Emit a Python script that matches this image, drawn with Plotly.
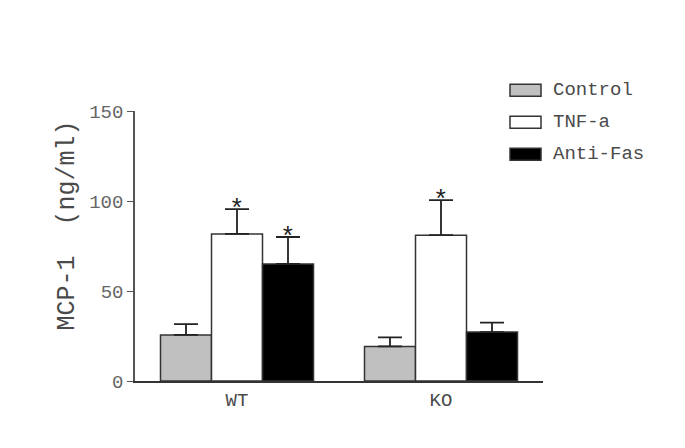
import plotly.graph_objects as go

groups = ["WT", "KO"]
series = ["Control", "TNF-a", "Anti-Fas"]
control = [25.6, 19.2]
control_err = [6.0, 5.0]
tnf = [81.7, 81.0]
tnf_err = [13.8, 19.5]
antifas = [65.0, 27.2]
antifas_err = [15.0, 5.2]
significant = {"TNF-a": [True, True], "Anti-Fas": [True, False], "Control": [False, False]}
y_title = "MCP-1\u00a0\u00a0(ng/ml)"

fills = {"Control": "#c0c0c0", "TNF-a": "#ffffff", "Anti-Fas": "#000000"}
vals = {"Control": (control, control_err), "TNF-a": (tnf, tnf_err), "Anti-Fas": (antifas, antifas_err)}

FONT = "Liberation Mono, Courier New, monospace"
TXT = "#4a4a4a"
fig = go.Figure()
for i, s in enumerate(series):
    v, e = vals[s]
    fig.add_trace(go.Bar(
        x=groups, y=v, name=s, showlegend=False,
        marker=dict(color=fills[s], line=dict(color="#333333", width=1.5)),
        error_y=dict(type="data", array=e, arrayminus=[0] * len(e), symmetric=False,
                     color="#222222", thickness=1.8, width=12),
    ))

# significance stars
offsets = {"Control": -1, "TNF-a": 0, "Anti-Fas": 1}
for s in series:
    v, e = vals[s]
    for gi, g in enumerate(groups):
        if significant[s][gi]:
            fig.add_annotation(x=gi + offsets[s] * 0.25, y=v[gi] + e[gi], xref="x", yref="y",
                               text="*", showarrow=False, yanchor="middle", yshift=-1,
                               font=dict(family=FONT, size=26, color="#222222"))

# legend (drawn manually: wide rectangles like the reference)
for i, s in enumerate(series):
    yc = 1.077 - i * 0.1185
    fig.add_shape(type="rect", xref="paper", yref="paper",
                  x0=375 / 408, x1=406 / 408,
                  y0=yc - 0.022, y1=yc + 0.022,
                  fillcolor=fills[s], line=dict(color="#333333", width=1.5))
    fig.add_annotation(xref="paper", yref="paper", x=416 / 408, y=yc,
                       xanchor="left", yanchor="middle", showarrow=False, text=s,
                       font=dict(family=FONT, size=19, color=TXT))

# y-axis title
fig.add_annotation(xref="paper", yref="paper", x=-0.165, y=0.575, textangle=-90,
                   xanchor="center", yanchor="middle", showarrow=False, text=y_title,
                   font=dict(family=FONT, size=25, color=TXT))

fig.update_layout(
    width=685, height=448,
    margin=dict(l=127, r=150, t=103, b=75, autoexpand=False),
    paper_bgcolor="white", plot_bgcolor="white",
    barmode="group", bargap=0.25, bargroupgap=0,
    font=dict(family=FONT, color=TXT),
    showlegend=False,
    xaxis=dict(range=[-0.5, 1.5], showline=True, linecolor="#333333", linewidth=1.5,
               ticks="", tickfont=dict(family=FONT, size=19, color=TXT),
               showgrid=False, zeroline=False),
    yaxis=dict(range=[0, 150], tickvals=[0, 50, 100, 150], showline=True, linecolor="#555555",
               linewidth=1.5, ticks="outside", ticklen=6, tickcolor="#555555",
               tickfont=dict(family=FONT, size=19, color="#666666"),
               showgrid=False, zeroline=False),
)

fig.write_html("out.html")
